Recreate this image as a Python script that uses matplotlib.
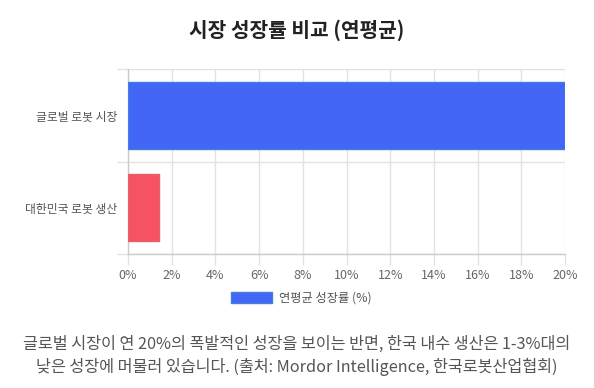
import matplotlib
matplotlib.use('Agg')
import matplotlib.pyplot as plt
from matplotlib.patches import Patch

plt.rcParams['font.family'] = ['Noto Sans CJK KR', 'DejaVu Sans']

# data
categories = ['글로벌 로봇 시장', '대한민국 로봇 생산']
growth = [20, 1.4]
bar_colors = ['#4466f6', '#f55262']
edge_colors = ['#3f7fe0', '#e8606c']
x_ticks = [0, 2, 4, 6, 8, 10, 12, 14, 16, 18, 20]
title = '시장 성장률 비교 (연평균)'
legend_label = '연평균 성장률 (%)'
caption = ('글로벌 시장이 연 20%의 폭발적인 성장을 보이는 반면, 한국 내수 생산은 1-3%대의\n'
           '낮은 성장에 머물러 있습니다. (출처: Mordor Intelligence, 한국로봇산업협회)')

fig = plt.figure(figsize=(5.94, 3.88), dpi=100)
ax = fig.add_axes([128/594, 1-254/388, (565-128)/594, (254-69)/388])

ax.barh(range(len(categories)), growth, height=0.72, color=bar_colors,
        edgecolor=edge_colors, linewidth=1, zorder=3)

ax.set_xlim(0, 20)
ax.set_ylim(1.5, -0.5)
ax.set_xticks(x_ticks)
ax.set_xticklabels(['%d%%' % t for t in x_ticks])
ax.set_yticks(range(len(categories)))
ax.set_yticklabels(categories)
ax.set_yticks([-0.5, 0.5, 1.5], minor=True)

grid_c = '#e2e2e2'
ax.grid(axis='x', color=grid_c, linewidth=1, zorder=0)
ax.grid(axis='y', which='minor', color=grid_c, linewidth=1, zorder=0)
ax.tick_params(axis='x', length=8, width=1, color=grid_c, pad=3,
               labelsize=9, labelcolor='#666666')
ax.tick_params(axis='y', which='major', length=0, pad=7.5,
               labelsize=8.5, labelcolor='#555555')
ax.tick_params(axis='y', which='minor', length=8, width=1, color=grid_c)

for s in ['top', 'right']:
    ax.spines[s].set_visible(False)
for s in ['left', 'bottom']:
    ax.spines[s].set_color('#cccccc')
    ax.spines[s].set_linewidth(1)

fig.text(0.5, 1-30/388, title, ha='center', va='center', fontsize=14.6,
         fontweight='bold', color='#222222')

handle = Patch(facecolor='#4466f6', edgecolor='#3f7fe0', linewidth=1)
fig.legend([handle], [legend_label], loc='center', bbox_to_anchor=(301/594, 1-298/388),
           frameon=False, fontsize=8.8, handlelength=3.4, handleheight=1.05,
           handletextpad=0.5, labelcolor='#555555')

fig.text(0.5, 1-356/388, caption, ha='center', va='center', fontsize=11.7,
         color='#555555', linespacing=1.4)

fig.savefig('out.png', dpi=100, facecolor='white')
